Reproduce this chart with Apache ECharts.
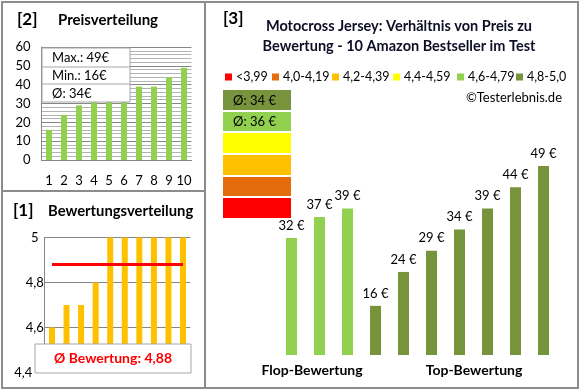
<!DOCTYPE html>
<html>
<head>
<meta charset="utf-8">
<script src="https://cdn.jsdelivr.net/npm/echarts@6/dist/echarts.min.js"></script>
<style>
html,body{margin:0;padding:0;background:#fff;}
#c{width:580px;height:390px;}
</style>
</head>
<body>
<div id="c"></div>
<script>
// ---- data ----
var priceCats = ['1','2','3','4','5','6','7','8','9','10'];
var prices = [16, 24, 29, 32, 34, 37, 39, 39, 44, 49];
var priceTicks = [0, 10, 20, 30, 40, 50, 60];
var ratings = [4.6, 4.7, 4.7, 4.8, 5, 5, 5, 5, 5, 5];
var ratingTicks = ['4,4', '4,6', '4,8', '5'];
var flopPrices = [32, 37, 39];
var topPrices = [16, 24, 29, 34, 39, 44, 49];
var legendLabels = ['<3,99', '4,0-4,19', '4,2-4,39', '4,4-4,59', '4,6-4,79', '4,8-5,0'];
var groupLabels = ['Flop-Bewertung', 'Top-Bewertung'];

var FONT = 'Lato, "Open Sans", sans-serif';
var C = {red:'#FF0000', orange:'#E46C0A', gold:'#FFC000', yellow:'#FFFF00', lgreen:'#92D050', dgreen:'#77933C'};
var legendColors = [C.red, C.orange, C.gold, C.yellow, C.lgreen, C.dgreen];

function avg(a){var s=0;for(var i=0;i<a.length;i++)s+=a[i];return s/a.length;}
var maxP = Math.max.apply(null, prices), minP = Math.min.apply(null, prices);
var avgP = Math.round(avg(prices));
var avgR = avg(ratings);
var avgFlop = Math.round(avg(flopPrices)), avgTop = Math.round(avg(topPrices));

var rightCats = [];
var rightData = [];
flopPrices.forEach(function(v,i){rightCats.push('f'+i); rightData.push({value:v, itemStyle:{color:C.lgreen}});});
topPrices.forEach(function(v,i){rightCats.push('t'+i); rightData.push({value:v, itemStyle:{color:C.dgreen}});});

var chart = echarts.init(document.getElementById('c'), null, {renderer:'canvas'});

function txt(x,y,text,font,fill,align,z){
  return {type:'text', x:x, y:y, z:z||20, style:{text:text, font:font, fill:fill||'#000', align:align||'left', verticalAlign:'middle'}};
}

var graphics = [];
// frames
graphics.push({type:'rect', z:30, shape:{x:2,y:2,width:576,height:386}, style:{fill:null, stroke:'#8c8c8c', lineWidth:2}});
graphics.push({type:'line', z:30, shape:{x1:205,y1:2,x2:205,y2:388}, style:{stroke:'#8c8c8c', lineWidth:2}});
graphics.push({type:'line', z:30, shape:{x1:2,y1:191,x2:205,y2:191}, style:{stroke:'#8c8c8c', lineWidth:2}});
// panel titles
graphics.push(txt(17,20,'[2]','bold 17px '+FONT,'#000'));
graphics.push(txt(58,20,'Preisverteilung','bold 15px '+FONT,'#000'));
graphics.push(txt(13,211,'[1]','bold 17px '+FONT,'#000'));
graphics.push(txt(48,211,'Bewertungsverteilung','bold 14.8px '+FONT,'#000'));
graphics.push(txt(223,19,'[3]','bold 17px '+FONT,'#000'));
graphics.push(txt(399,26,'Motocross Jersey: Verhältnis von Preis zu','bold 14.5px '+FONT,'#0d0d26','center'));
graphics.push(txt(399,46,'Bewertung - 10 Amazon Bestseller im Test','bold 14.5px '+FONT,'#0d0d26','center'));
// price stats box
graphics.push({type:'rect', z:20, shape:{x:42,y:48,width:88,height:54}, style:{fill:'#fff', stroke:'#a6a6a6', lineWidth:1}});
graphics.push({type:'line', z:21, shape:{x1:42,y1:67,x2:130,y2:67}, style:{stroke:'#a6a6a6', lineWidth:1}});
graphics.push({type:'line', z:21, shape:{x1:42,y1:84,x2:130,y2:84}, style:{stroke:'#a6a6a6', lineWidth:1}});
graphics.push(txt(52,58,'Max.: '+maxP+'€','13px '+FONT,'#000','left',22));
graphics.push(txt(52,76,'Min.: '+minP+'€','13px '+FONT,'#000','left',22));
graphics.push(txt(52,93.5,'Ø: '+avgP+'€','13px '+FONT,'#000','left',22));
// rating avg box
graphics.push({type:'rect', z:20, shape:{x:35,y:344,width:156,height:29}, style:{fill:'#fff', stroke:'#a6a6a6', lineWidth:1}});
graphics.push(txt(113,358.5,'Ø Bewertung: '+avgR.toFixed(2).replace('.',','),'bold 14px '+FONT,C.red,'center',22));
// legend
var legX = [225, 272, 332, 393, 457, 516];
legendLabels.forEach(function(l,i){
  graphics.push({type:'rect', z:20, shape:{x:legX[i], y:73.5, width:7, height:7}, style:{fill:legendColors[i]}});
  graphics.push(txt(legX[i]+11, 77, l, '12.5px '+FONT, '#000'));
});
graphics.push(txt(562,98,'©Testerlebnis.de','13px '+FONT,'#000','right'));
// color scale boxes
var boxY = [[90,20],[112,19],[133,20],[155,20],[177,19],[198,20]];
var boxCols = [C.dgreen, C.lgreen, C.yellow, C.gold, C.orange, C.red];
boxY.forEach(function(b,i){
  graphics.push({type:'rect', z:20, shape:{x:223,y:b[0],width:68,height:b[1]}, style:{fill:boxCols[i]}});
});
graphics.push(txt(233,100.5,'Ø: '+avgTop+' €','13px '+FONT,'#000','left',22));
graphics.push(txt(233,122,'Ø: '+avgFlop+' €','13px '+FONT,'#000','left',22));
// group labels
graphics.push(txt(312,370,groupLabels[0],'bold 14px '+FONT,'#000','center'));
graphics.push(txt(474,370,groupLabels[1],'bold 14px '+FONT,'#000','center'));

var axisLabelStyle = {color:'#000', fontFamily:FONT, fontSize:13};

var option = {
  animation:false,
  backgroundColor:'#fff',
  grid:[
    {left:41.5, top:47, width:150, height:113},
    {left:44.7, top:237.5, width:145.6, height:135},
    {left:277.5, top:161.8, width:280, height:193.2}
  ],
  xAxis:[
    {gridIndex:0, type:'category', data:priceCats, axisTick:{show:false},
     axisLine:{lineStyle:{color:'#868686'}}, axisLabel:Object.assign({margin:14, interval:0}, axisLabelStyle)},
    {gridIndex:1, type:'category', data:priceCats, axisTick:{show:false}, axisLine:{show:false}, axisLabel:{show:false}},
    {gridIndex:2, type:'category', data:rightCats, axisTick:{show:false}, axisLine:{show:false}, axisLabel:{show:false}}
  ],
  yAxis:[
    {gridIndex:0, type:'value', min:priceTicks[0], max:priceTicks[priceTicks.length-1], interval:10,
     axisLine:{show:true, lineStyle:{color:'#868686'}}, axisTick:{show:false},
     axisLabel:Object.assign({margin:11}, axisLabelStyle),
     splitLine:{lineStyle:{color:'#868686', width:1}},
     minorTick:{show:false, splitNumber:5},
     minorSplitLine:{show:true, lineStyle:{color:'#b3b3b3', width:1}}},
    {gridIndex:1, type:'value', min:4.4, max:5, interval:0.2,
     axisLine:{show:true, lineStyle:{color:'#868686'}}, axisTick:{show:false},
     axisLabel:Object.assign({margin:10, align:'center', formatter:function(v){
        var r = Math.round(v*10)/10; var i = Math.round((r-4.4)/0.2);
        var s = ratingTicks[i] !== undefined ? ratingTicks[i] : String(r).replace('.',',');
        return i === 0 ? '{low|' + s + '}' : s;},
        rich:{low:{padding:[0,23,0,0], color:'#000', fontFamily:FONT, fontSize:13}}}, axisLabelStyle),
     splitLine:{lineStyle:{color:'#868686', width:1}}},
    {gridIndex:2, type:'value', min:4.4, max:50, show:false, splitLine:{show:false}}
  ],
  series:[
    {type:'bar', xAxisIndex:0, yAxisIndex:0, data:prices, barWidth:6, itemStyle:{color:C.lgreen}, z:3},
    {type:'bar', xAxisIndex:1, yAxisIndex:1, data:ratings, barWidth:6, itemStyle:{color:C.gold}, z:3},
    {type:'line', xAxisIndex:1, yAxisIndex:1, data:ratings.map(function(){return avgR;}), symbol:'none',
     lineStyle:{color:C.red, width:3}, z:4},
    {type:'bar', xAxisIndex:2, yAxisIndex:2, data:rightData, barWidth:11, z:3,
     label:{show:true, position:'top', distance:6, formatter:function(p){return p.value+' €';},
       color:'#000', fontFamily:FONT, fontSize:13}}
  ],
  graphic:graphics
};
chart.setOption(option);
</script>
</body>
</html>
